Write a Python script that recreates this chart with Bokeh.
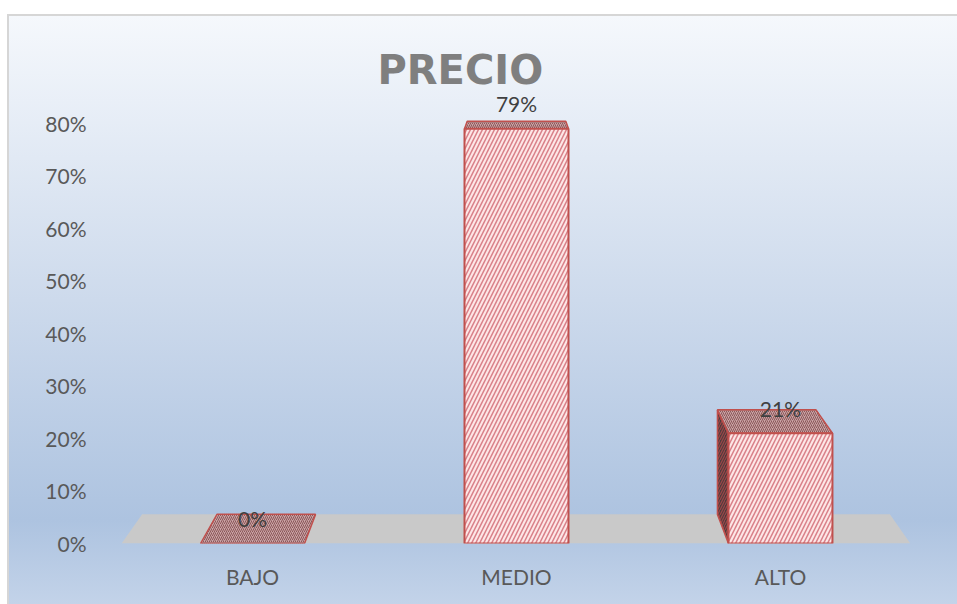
from bokeh.plotting import figure
from bokeh.models import FixedTicker, Range1d
from bokeh.core.properties import value
from bokeh.embed import file_html
from bokeh.resources import INLINE

# ---- data ----
categories = ["BAJO", "MEDIO", "ALTO"]
percentages = [0, 79, 21]
value_labels = ["0%", "79%", "21%"]
y_ticks = [0, 10, 20, 30, 40, 50, 60, 70, 80]
y_tick_labels = ["0%", "10%", "20%", "30%", "40%", "50%", "60%", "70%", "80%"]
title_text = "PRECIO"

# ---- style / view constants ----
W, H = 957, 604
HALF_W = 0.197          # half bar width (category units)
VANISH = (1.0, 106.7)   # perspective vanishing point (data units)
DEPTH = 0.052           # depth fraction toward vanishing point
FLOOR_X = (-0.496, 2.492)

p = figure(width=W, height=H, output_backend="svg", toolbar_location=None,
           x_range=Range1d(-0.576, 2.576), y_range=Range1d(0, 85.9),
           min_border_left=100, min_border_right=25, min_border_top=92,
           min_border_bottom=61)
p.background_fill_color = None
p.border_fill_color = None
p.outline_line_color = None
p.grid.visible = False

# chart-area gradient + thin border drawn as CSS background behind the transparent canvas
grad = ("linear-gradient(to bottom, #f5f8fc 0px, #cddaec 284px, #adc3e0 504px, #c3d3e9 588px) "
        "9px 16px / calc(100% - 9px) calc(100% - 16px) no-repeat")
edge = "linear-gradient(#d6d6d6, #d6d6d6) 7px 14px / calc(100% - 7px) calc(100% - 14px) no-repeat"
p.styles = {"background": f"{grad}, {edge}, #ffffff"}

# ---- perspective helper ----
def back(x, y):
    return x + DEPTH * (VANISH[0] - x), y + DEPTH * (VANISH[1] - y)

# floor
fl, fr = FLOOR_X
bl = back(fl, 0)
br = back(fr, 0)
p.patch([fl, fr, br[0], bl[0]], [0, 0, br[1], bl[1]], fill_color="#c9c9c9",
        line_color=None)

front_xs, front_ys, top_xs, top_ys, side_xs, side_ys = [], [], [], [], [], []
for i, v in enumerate(percentages):
    x0, x1 = i - HALF_W, i + HALF_W
    b0 = back(x0, v)
    b1 = back(x1, v)
    top_xs.append([x0, x1, b1[0], b0[0]])
    top_ys.append([v, v, b1[1], b0[1]])
    if v > 0:
        front_xs.append([x0, x1, x1, x0])
        front_ys.append([0, 0, v, v])
        if x1 < VANISH[0]:
            g0 = back(x1, 0)
            side_xs.append([x1, g0[0], b1[0], x1])
            side_ys.append([0, g0[1], b1[1], v])
        elif x0 > VANISH[0]:
            g0 = back(x0, 0)
            side_xs.append([x0, x0, b0[0], g0[0]])
            side_ys.append([0, v, b0[1], g0[1]])

RED = "#c0504d"
if side_xs:
    p.patches(side_xs, side_ys, fill_color="#4e3c3d", line_color=RED, line_width=1.5,
              hatch_pattern="right_diagonal_line", hatch_color="#b0474a",
              hatch_scale=5, hatch_weight=1.2, hatch_alpha=0.8)
p.patches(top_xs, top_ys, fill_color="#c9a3a5", line_color=RED, line_width=1.5,
          hatch_pattern="right_diagonal_line", hatch_color="#7c4446",
          hatch_scale=4, hatch_weight=1.0, hatch_alpha=0.8)
p.patches(front_xs, front_ys, fill_color="#fde6e6", line_color=RED, line_width=2,
          hatch_pattern="right_diagonal_line", hatch_color="#cf6571",
          hatch_scale=8, hatch_weight=1.5, hatch_alpha=0.8)

# value labels
p.text(x=list(range(len(categories))), y=percentages, text=value_labels,
       text_align="center", text_baseline="middle", y_offset=-25,
       text_font=value("Lato"), text_font_size="21px", text_color="#404040")

# axes
p.xaxis.ticker = FixedTicker(ticks=list(range(len(categories))))
p.xaxis.major_label_overrides = {i: c for i, c in enumerate(categories)}
p.yaxis.ticker = FixedTicker(ticks=y_ticks)
p.yaxis.major_label_overrides = {t: l for t, l in zip(y_ticks, y_tick_labels)}
for ax in (p.xaxis, p.yaxis):
    ax.axis_line_color = None
    ax.major_tick_line_color = None
    ax.minor_tick_line_color = None
    ax.major_tick_out = 0
    ax.major_tick_in = 0
    ax.major_label_text_font = "Lato"
    ax.major_label_text_font_size = "21px"
    ax.major_label_text_color = "#595959"
p.yaxis.major_label_standoff = 14
p.xaxis.major_label_standoff = 20

# title
p.title.text = title_text
p.title.text_font = "DejaVu Sans"
p.title.text_font_style = "bold"
p.title.text_font_size = "40px"
p.title.text_color = "#7f7f7f"
p.title.align = "left"
p.title.offset = 277
p.title.standoff = 0

open("out.html", "w").write(file_html(p, INLINE))
